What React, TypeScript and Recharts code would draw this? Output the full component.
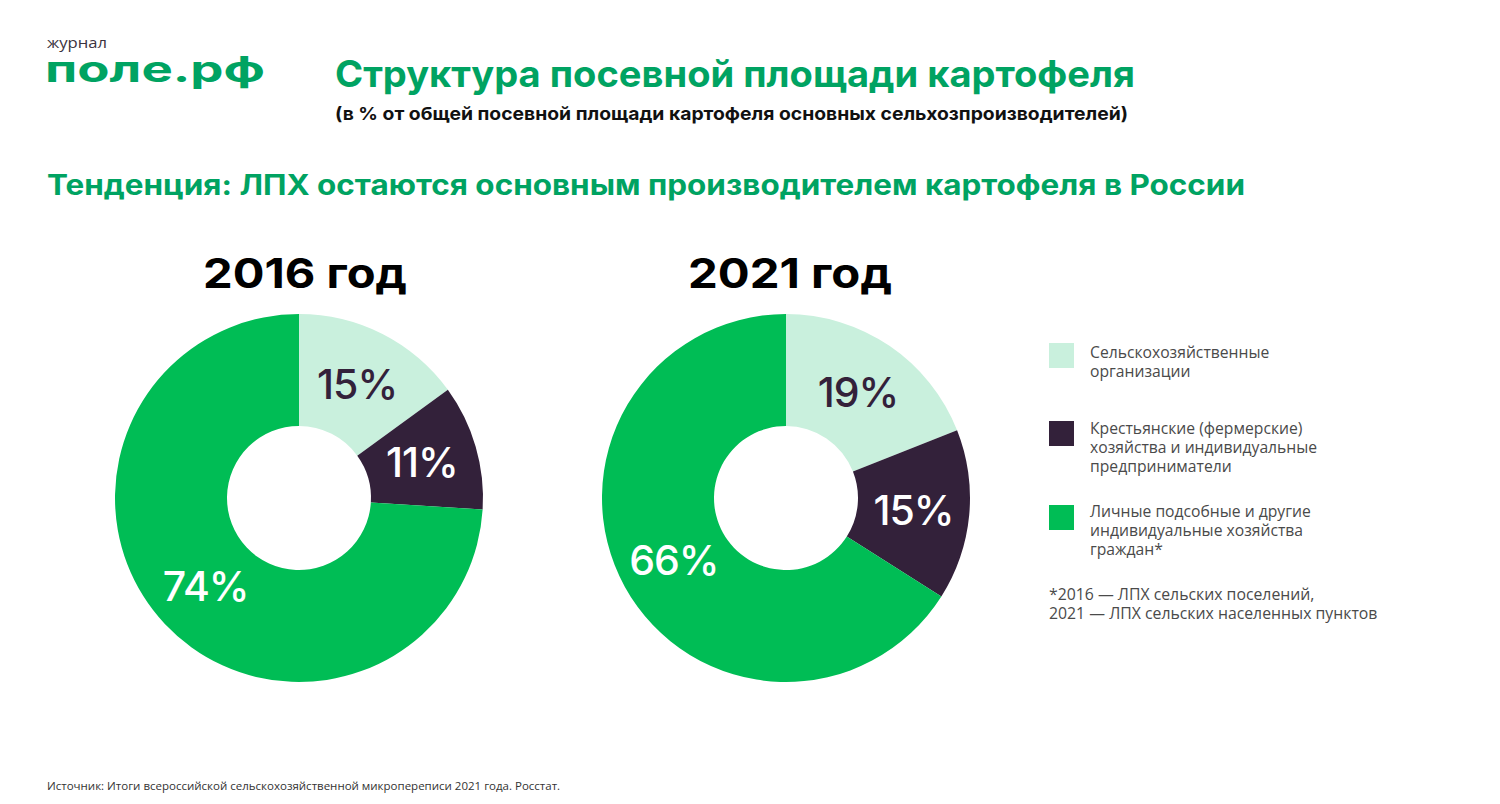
import React from "react";
import { PieChart, Pie, Cell } from "recharts";

const categories = [
  "Сельскохозяйственные организации",
  "Крестьянские (фермерские) хозяйства и индивидуальные предприниматели",
  "Личные подсобные и другие индивидуальные хозяйства граждан*",
];
const values2016 = [15, 11, 74];
const values2021 = [19, 15, 66];
const years = ["2016 год", "2021 год"];
const colors = ["#c9f0dd", "#33213a", "#00bd55"];
const labelColors = ["#33213a", "#ffffff", "#ffffff"];
const legendLines = [
  ["Сельскохозяйственные", "организации"],
  ["Крестьянские (фермерские)", "хозяйства и индивидуальные", "предприниматели"],
  ["Личные подсобные и другие", "индивидуальные хозяйства", "граждан*"],
];
const footnoteLines = ["*2016 — ЛПХ сельских поселений,", "2021 — ЛПХ сельских населенных пунктов"];

const data2016 = categories.map((name, i) => ({ name, value: values2016[i] }));
const data2021 = categories.map((name, i) => ({ name, value: values2021[i] }));

const RADIAN = Math.PI / 180;
const GREEN = "#00a362";

const renderLabel = (props: any) => {
  const { cx, cy, midAngle, innerRadius, outerRadius, value, index } = props;
  const r = (innerRadius + outerRadius) / 2;
  const x = cx + r * Math.cos(-midAngle * RADIAN);
  const y = cy + r * Math.sin(-midAngle * RADIAN);
  return (
    <text
      x={x}
      y={y}
      fill={labelColors[index]}
      textAnchor="middle"
      dominantBaseline="central"
      fontFamily="Inter"
      fontWeight={500}
      fontSize={41}
      letterSpacing={-1}
    >
      {`${value}%`}
    </text>
  );
};

export default function App() {
  return (
    <div style={{ position: "absolute", left: 0, top: 0, width: 1500, height: 804, background: "#fff", overflow: "hidden" }}>
      <div style={{ position: "absolute", left: 0, top: 0 }}>
        <PieChart width={1500} height={804} margin={{ top: 0, right: 0, bottom: 0, left: 0 }}>
          <Pie
            data={data2016}
            dataKey="value"
            cx={299}
            cy={498}
            innerRadius={72}
            outerRadius={184}
            startAngle={90}
            endAngle={-270}
            stroke="none"
            labelLine={false}
            label={renderLabel}
            isAnimationActive={false}
          >
            {data2016.map((d, i) => (
              <Cell key={d.name} fill={colors[i]} />
            ))}
          </Pie>
          <Pie
            data={data2021}
            dataKey="value"
            cx={786}
            cy={498}
            innerRadius={72}
            outerRadius={184}
            startAngle={90}
            endAngle={-270}
            stroke="none"
            labelLine={false}
            label={renderLabel}
            isAnimationActive={false}
          >
            {data2021.map((d, i) => (
              <Cell key={d.name} fill={colors[i]} />
            ))}
          </Pie>
        </PieChart>
      </div>
      <svg width={1500} height={804} style={{ position: "absolute", left: 0, top: 0, pointerEvents: "none" }}>
        <text x={47} y={48} fontFamily="Open Sans" fontSize={15} fill="#3b3340" textLength={60} lengthAdjust="spacingAndGlyphs">журнал</text>
        <text x={45} y={82} fontFamily="Inter" fontWeight={700} fontSize={36} fill={GREEN} textLength={220} lengthAdjust="spacingAndGlyphs">поле.рф</text>
        <text x={335} y={87} fontFamily="Inter" fontWeight={700} fontSize={37} fill={GREEN} textLength={800} lengthAdjust="spacingAndGlyphs">Структура посевной площади картофеля</text>
        <text x={335} y={120} fontFamily="Inter" fontWeight={700} fontSize={18} fill="#111" textLength={793} lengthAdjust="spacingAndGlyphs">(в % от общей посевной площади картофеля основных сельхозпроизводителей)</text>
        <text x={47} y={195} fontFamily="Inter" fontWeight={700} fontSize={28} fill={GREEN} textLength={1198} lengthAdjust="spacingAndGlyphs">Тенденция: ЛПХ остаются основным производителем картофеля в России</text>
        <text x={203} y={288} fontFamily="Inter" fontWeight={700} fontSize={41} fill="#000" textLength={204} lengthAdjust="spacingAndGlyphs">{years[0]}</text>
        <text x={688} y={288} fontFamily="Inter" fontWeight={700} fontSize={41} fill="#000" textLength={204} lengthAdjust="spacingAndGlyphs">{years[1]}</text>
        {[343, 421, 505].map((y, i) => (
          <rect key={i} x={1049} y={y} width={25} height={25} fill={colors[i]} />
        ))}
        {legendLines.map((lines, i) =>
          lines.map((line, j) => (
            <text key={`${i}-${j}`} x={1090} y={[358, 434, 517][i] + j * 19} fontFamily="Open Sans" fontSize={15.7} fill="#4a4a4a">
              {line}
            </text>
          ))
        )}
        {footnoteLines.map((line, j) => (
          <text key={j} x={1049} y={600 + j * 19} fontFamily="Open Sans" fontSize={15.8} fill="#4a4a4a">
            {line}
          </text>
        ))}
        <text x={47} y={790} fontFamily="Open Sans" fontSize={11.5} fill="#333">Источник: Итоги всероссийской сельскохозяйственной микропереписи 2021 года. Росстат.</text>
      </svg>
    </div>
  );
}
